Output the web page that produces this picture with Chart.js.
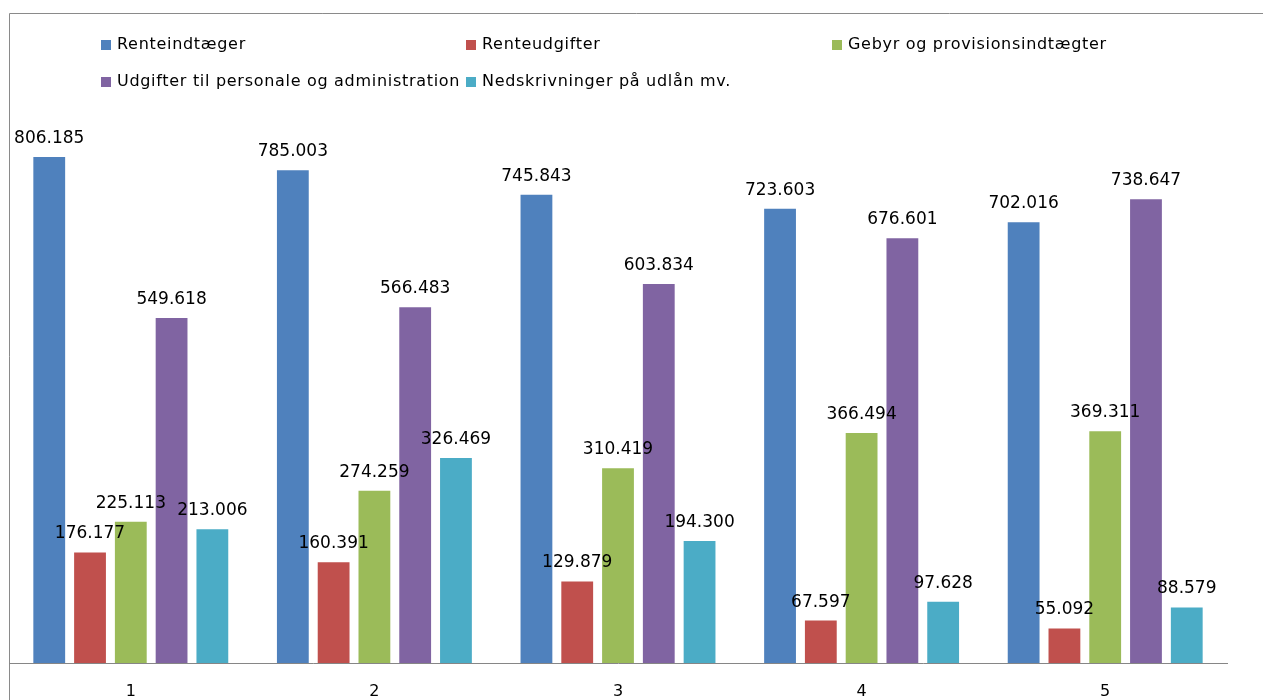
<!DOCTYPE html>
<html>
<head>
<meta charset="utf-8">
<script src="https://cdn.jsdelivr.net/npm/chart.js@4.4.1/dist/chart.umd.min.js"></script>
<style>
    html, body { margin: 0; padding: 0; background: #fff; }
    #wrap { position: relative; width: 1263px; height: 700px; }
</style>
</head>
<body>
<div id="wrap"><canvas id="bankChart" width="1263" height="700"></canvas></div>
<script>
// Data
const categories = ['1', '2', '3', '4', '5'];
const seriesNames = [
    'Renteindtæger',
    'Renteudgifter',
    'Gebyr og provisionsindtægter',
    'Udgifter til personale og administration',
    'Nedskrivninger på udlån mv.'
];
const renteindtaeger = [806185, 785003, 745843, 723603, 702016];
const renteudgifter = [176177, 160391, 129879, 67597, 55092];
const gebyr = [225113, 274259, 310419, 366494, 369311];
const udgifterPersonale = [549618, 566483, 603834, 676601, 738647];
const nedskrivninger = [213006, 326469, 194300, 97628, 88579];

const colors = ['#4F81BD', '#C0504D', '#9BBB59', '#8064A2', '#4BACC6'];
const FONT = '"DejaVu Sans", sans-serif';

function fmt(v) {
    return v.toString().replace(/\B(?=(\d{3})+(?!\d))/g, '.');
}

// legend in a fixed grid, like the original
const legendGrid = {
    id: 'legendGrid',
    afterDraw(chart) {
        const ctx = chart.ctx;
        const cols = [101, 466, 832];
        const rows = [45, 82];
        ctx.save();
        ctx.font = '16px ' + FONT;
        ctx.letterSpacing = '0.7px';
        ctx.textBaseline = 'middle';
        chart.data.datasets.forEach(function (ds, i) {
            const x = cols[i % 3];
            const y = rows[Math.floor(i / 3)];
            ctx.fillStyle = ds.backgroundColor;
            ctx.fillRect(x, y - 5, 10, 10);
            ctx.fillStyle = '#000';
            ctx.fillText(ds.label, x + 16, y);
        });
        ctx.restore();
    }
};

// value labels above bars
const valueLabels = {
    id: 'valueLabels',
    afterDatasetsDraw(chart) {
        const ctx = chart.ctx;
        ctx.save();
        ctx.font = '17px ' + FONT;
        ctx.fillStyle = '#000';
        ctx.textAlign = 'center';
        ctx.textBaseline = 'alphabetic';
        chart.data.datasets.forEach(function (ds, i) {
            chart.getDatasetMeta(i).data.forEach(function (bar, j) {
                ctx.fillText(fmt(ds.data[j]), bar.x, bar.y - 14);
            });
        });
        ctx.restore();
    }
};

// outer frame (top and left edges visible)
const frame = {
    id: 'frame',
    beforeDraw(chart) {
        const ctx = chart.ctx;
        ctx.save();
        ctx.strokeStyle = '#8a8a8a';
        ctx.lineWidth = 1;
        ctx.beginPath();
        ctx.moveTo(9.5, 700);
        ctx.lineTo(9.5, 13.5);
        ctx.lineTo(1263, 13.5);
        ctx.stroke();
        ctx.restore();
    }
};

const allSeries = [renteindtaeger, renteudgifter, gebyr, udgifterPersonale, nedskrivninger];

const ctx = document.getElementById('bankChart').getContext('2d');
new Chart(ctx, {
    type: 'bar',
    data: {
        labels: categories,
        datasets: allSeries.map(function (values, i) {
            return {
                label: seriesNames[i],
                data: values,
                backgroundColor: colors[i],
                borderWidth: 0,
                categoryPercentage: 0.837,
                barPercentage: 0.78
            };
        })
    },
    options: {
        responsive: false,
        animation: false,
        layout: {
            padding: { top: 98, left: 9, right: 36, bottom: 0 }
        },
        plugins: {
            legend: { display: false },
            tooltip: { enabled: false }
        },
        scales: {
            x: {
                grid: { display: false, drawTicks: false },
                border: { display: true, color: '#868686', width: 1 },
                ticks: {
                    color: '#000',
                    padding: 19,
                    font: { family: FONT, size: 16 }
                },
                afterFit: function (axis) { axis.height = 37; }
            },
            y: {
                display: false,
                min: 0,
                max: 900000
            }
        }
    },
    plugins: [frame, legendGrid, valueLabels]
});
</script>
</body>
</html>
